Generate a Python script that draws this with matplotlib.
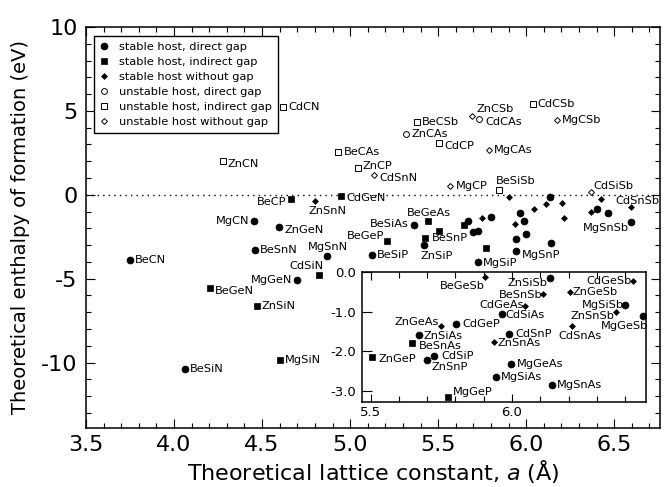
import matplotlib
matplotlib.use('Agg')
import matplotlib.pyplot as plt
from matplotlib.lines import Line2D
from matplotlib.ticker import MultipleLocator, FormatStrFormatter

plt.rcParams['axes.unicode_minus'] = False

# compound, lattice constant a (A), formation enthalpy (eV), host type
names = ['BeCN', 'BeSiN', 'BeGeN', 'MgCN', 'BeSnN', 'ZnSiN', 'ZnGeN', 'MgSiN',
         'MgGeN', 'BeCP', 'ZnSnN', 'CdSiN', 'MgSnN', 'CdGeN', 'BeSiP', 'BeSiAs',
         'BeGeAs', 'BeGeP', 'BeSnP', 'ZnSiP', 'ZnGeP', 'BeSnAs', 'ZnSiAs', 'ZnGeAs',
         'CdGeP', 'CdSiP', 'ZnSnP', 'MgGeP', 'BeGeSb', 'CdSiAs', 'ZnSnAs', 'CdSnP',
         'MgSiAs', 'MgGeAs', 'CdGeAs', 'BeSnSb', 'ZnSiSb', 'MgSnAs', 'ZnGeSb', 'CdSnAs',
         'ZnSnSb', 'MgSiSb', 'CdGeSb', 'MgGeSb', 'MgSiP', 'MgSnP', 'MgSnSb', 'CdSnSb',
         'CdSiSb', 'BeSiSb', 'MgCP', 'CdSnN', 'ZnCP', 'BeCAs', 'ZnCN', 'CdCN',
         'ZnCAs', 'BeCSb', 'CdCP', 'ZnCSb', 'CdCAs', 'MgCAs', 'CdCSb', 'MgCSb']
lattice = [3.75, 4.062, 4.203, 4.455, 4.458, 4.47, 4.597, 4.60,
           4.699, 4.665, 4.80, 4.824, 4.871, 4.95, 5.123, 5.364,
           5.443, 5.208, 5.428, 5.417, 5.506, 5.648, 5.67, 5.75,
           5.803, 5.725, 5.70, 5.773, 5.904, 5.963, 5.935, 5.99,
           5.942, 5.997, 6.047, 6.111, 6.134, 6.142, 6.205, 6.213,
           6.367, 6.40, 6.427, 6.462, 5.725, 5.94, 6.593, 6.597,
           6.369, 5.847, 5.568, 5.136, 5.042, 4.934, 4.276, 4.621,
           5.318, 5.382, 5.506, 5.695, 5.733, 5.79, 6.038, 6.174]
enthalpy = [-3.87, -10.36, -5.54, -1.55, -3.31, -6.65, -1.92, -9.84,
            -5.10, -0.24, -0.36, -4.80, -3.63, -0.10, -3.61, -1.83,
            -1.57, -2.74, -2.60, -2.98, -2.15, -1.78, -1.58, -1.37,
            -1.32, -2.13, -2.23, -3.15, -0.12, -1.06, -1.76, -1.56,
            -2.66, -2.31, -0.86, -0.55, -0.16, -2.85, -0.50, -1.37,
            -1.02, -0.82, -0.23, -1.10, -4.03, -3.36, -1.61, -0.71,
            0.16, 0.26, 0.54, 1.19, 1.59, 2.54, 2.02, 5.24,
            3.63, 4.33, 3.07, 4.72, 4.52, 2.68, 5.40, 4.45]
kind = ['sd', 'sd', 'si', 'sd', 'sd', 'si', 'sd', 'si',
        'sd', 'si', 'sn', 'si', 'sd', 'si', 'sd', 'sd',
        'si', 'si', 'si', 'sd', 'si', 'si', 'sd', 'sn',
        'sd', 'sd', 'sd', 'si', 'sn', 'sd', 'sn', 'sd',
        'sd', 'sd', 'sn', 'sn', 'sd', 'sd', 'sn', 'sn',
        'sn', 'sd', 'sn', 'sd', 'sd', 'sd', 'sd', 'sn',
        'un', 'ui', 'un', 'un', 'ui', 'ui', 'ui', 'ui',
        'ud', 'ui', 'ui', 'un', 'ud', 'un', 'ui', 'un']

legend_order = ['sd', 'si', 'sn', 'ud', 'ui', 'un']
legend_labels = {'sd': 'stable host, direct gap', 'si': 'stable host, indirect gap',
                 'sn': 'stable host without gap', 'ud': 'unstable host, direct gap',
                 'ui': 'unstable host, indirect gap', 'un': 'unstable host without gap'}

styles = {
    'sd': dict(marker='o', ms=5.0, mfc='black', mec='black', mew=0.5),
    'si': dict(marker='s', ms=4.3, mfc='black', mec='black', mew=0.5),
    'sn': dict(marker='D', ms=3.0, mfc='black', mec='black', mew=0.5),
    'ud': dict(marker='o', ms=4.2, mfc='white', mec='black', mew=0.7),
    'ui': dict(marker='s', ms=4.0, mfc='white', mec='black', mew=0.7),
    'un': dict(marker='D', ms=3.0, mfc='white', mec='black', mew=0.7),
}

# label placement: (dx px, dy px, ha)
main_off = {
    'BeCN': (5, 0, 'left'), 'BeSiN': (5, 0, 'left'), 'BeGeN': (5, -3, 'left'),
    'MgCN': (-5, 0, 'right'), 'BeSnN': (5, 0, 'left'), 'ZnSiN': (5, 0, 'left'),
    'ZnGeN': (5, -3, 'left'), 'MgSiN': (5, 0, 'left'), 'MgGeN': (-5, 0, 'right'),
    'BeCP': (-5, -3, 'right'), 'ZnSnN': (-6, -10, 'left'), 'CdSiN': (4, 9, 'right'),
    'MgSnN': (1, 9, 'center'), 'CdGeN': (5, -2, 'left'), 'BeSiP': (5, 0, 'left'),
    'BeSiAs': (-5, 1, 'right'), 'BeGeAs': (1, 8, 'center'), 'BeGeP': (-2, 5, 'right'),
    'BeSnP': (6, 0, 'left'), 'ZnSiP': (-3, -11, 'left'), 'ZnCP': (5, 2, 'left'),
    'CdSnN': (5, -3, 'left'), 'MgCP': (6, 0, 'left'), 'BeSiSb': (-3, 9, 'left'),
    'BeCAs': (5, 0, 'left'), 'ZnCAs': (5, 0, 'left'), 'BeCSb': (5, 0, 'left'),
    'CdCP': (5, -3, 'left'), 'ZnCSb': (4, 7, 'left'), 'CdCAs': (6, -3, 'left'),
    'MgCAs': (5, 0, 'left'), 'CdCSb': (5, 0, 'left'), 'MgCSb': (5, 0, 'left'),
    'CdCN': (5, 0, 'left'), 'ZnCN': (5, -3, 'left'), 'CdSiSb': (2, 6, 'left'),
    'CdSnSb': (6, 6, 'center'), 'MgSnSb': (-2, -6, 'right'), 'MgSiP': (5, -1, 'left'),
    'MgSnP': (6, -4, 'left'),
}
inset_off = {
    'ZnGeP': (6, -2, 'left'), 'BeSnAs': (6, -3, 'left'), 'ZnSiAs': (5, -1, 'left'),
    'ZnGeAs': (-2, 4, 'right'), 'CdGeP': (6, 0, 'left'), 'CdSiP': (7, 0, 'left'),
    'ZnSnP': (4, -7, 'left'), 'MgGeP': (5, 5, 'left'), 'BeGeSb': (0, -9, 'right'),
    'ZnSiSb': (-2, -5, 'right'), 'BeSnSb': (-1, -1, 'right'), 'CdGeAs': (-1, 1, 'right'),
    'CdSiAs': (4, -1, 'left'), 'CdSnP': (6, 0, 'left'), 'ZnSnAs': (4, -1, 'left'),
    'MgGeAs': (6, 0, 'left'), 'MgSiAs': (5, 0, 'left'), 'MgSnAs': (5, 0, 'left'),
    'ZnGeSb': (3, 0, 'left'), 'CdSnAs': (8, -10, 'center'), 'CdGeSb': (-1, 0, 'right'),
    'MgSiSb': (-1, 0, 'right'), 'ZnSnSb': (-1, -4, 'right'), 'MgGeSb': (6, -10, 'right'),
}

fig = plt.figure(figsize=(6.7, 4.87), dpi=100)
ax = fig.add_axes([86 / 670, 1 - 428 / 487, 574 / 670, 401 / 487])

for n, a, h, k in zip(names, lattice, enthalpy, kind):
    ax.plot(a, h, ls='none', **styles[k])
    if n in main_off:
        dx, dy, ha = main_off[n]
        ax.annotate(n, (a, h), xytext=(dx, dy), textcoords='offset pixels',
                    ha=ha, va='center', fontsize=8.2)

ax.axhline(0, color='black', lw=1.0, ls=(0, (1, 3)))
ax.set_xlim(3.5, 6.76)
ax.set_ylim(-13.9, 10)
ax.xaxis.set_major_locator(MultipleLocator(0.5))
ax.xaxis.set_minor_locator(MultipleLocator(0.1))
ax.yaxis.set_major_locator(MultipleLocator(5))
ax.yaxis.set_minor_locator(MultipleLocator(1))
ax.xaxis.set_major_formatter(FormatStrFormatter('%.1f'))
ax.tick_params(which='both', direction='in', top=True, right=True, width=0.8)
ax.tick_params(which='major', length=6.5, labelsize=16)
ax.tick_params(which='minor', length=3.8)
ax.tick_params(axis='x', pad=5)
ax.tick_params(axis='y', pad=6)
for s in ax.spines.values():
    s.set_linewidth(1.1)
ax.set_xlabel('Theoretical lattice constant, $\\mathit{a}$ (Å)', fontsize=16, labelpad=2)
ax.set_ylabel('Theoretical enthalpy of formation (eV)', fontsize=14, labelpad=8)

handles = [Line2D([], [], ls='none', **styles[k]) for k in legend_order]
leg = ax.legend(handles, [legend_labels[k] for k in legend_order],
                loc='upper left', bbox_to_anchor=(94 / 670, 1 - 36 / 487),
                bbox_transform=fig.transFigure, borderaxespad=0, fontsize=8.2,
                fancybox=False, edgecolor='black', framealpha=1, handlelength=0.8,
                handletextpad=0.9, labelspacing=0.45, borderpad=0.5)
leg.get_frame().set_linewidth(1.0)

# inset: zoom on the low-enthalpy, large-lattice region
axi = fig.add_axes([361.5 / 670, 1 - 402 / 487, 284 / 670, 130 / 487])
for n, a, h, k in zip(names, lattice, enthalpy, kind):
    if n in inset_off:
        axi.plot(a, h, ls='none', **styles[k])
        dx, dy, ha = inset_off[n]
        axi.annotate(n, (a, h), xytext=(dx, dy), textcoords='offset pixels',
                     ha=ha, va='center', fontsize=8.2)
axi.set_xlim(5.468, 6.472)
axi.set_ylim(-3.28, 0.0)
axi.xaxis.set_major_locator(MultipleLocator(0.5))
axi.xaxis.set_minor_locator(MultipleLocator(0.1))
axi.yaxis.set_major_locator(MultipleLocator(1.0))
axi.xaxis.set_major_formatter(FormatStrFormatter('%.1f'))
axi.yaxis.set_major_formatter(FormatStrFormatter('%.1f'))
axi.tick_params(which='both', direction='in', top=True, right=False, width=0.8, labelsize=9.5)
axi.tick_params(axis='x', which='major', length=6, pad=3)
axi.tick_params(axis='x', which='minor', length=4)
axi.tick_params(axis='y', which='major', length=7, pad=4)
for s in axi.spines.values():
    s.set_linewidth(1.1)

fig.savefig('out.png', dpi=100)
